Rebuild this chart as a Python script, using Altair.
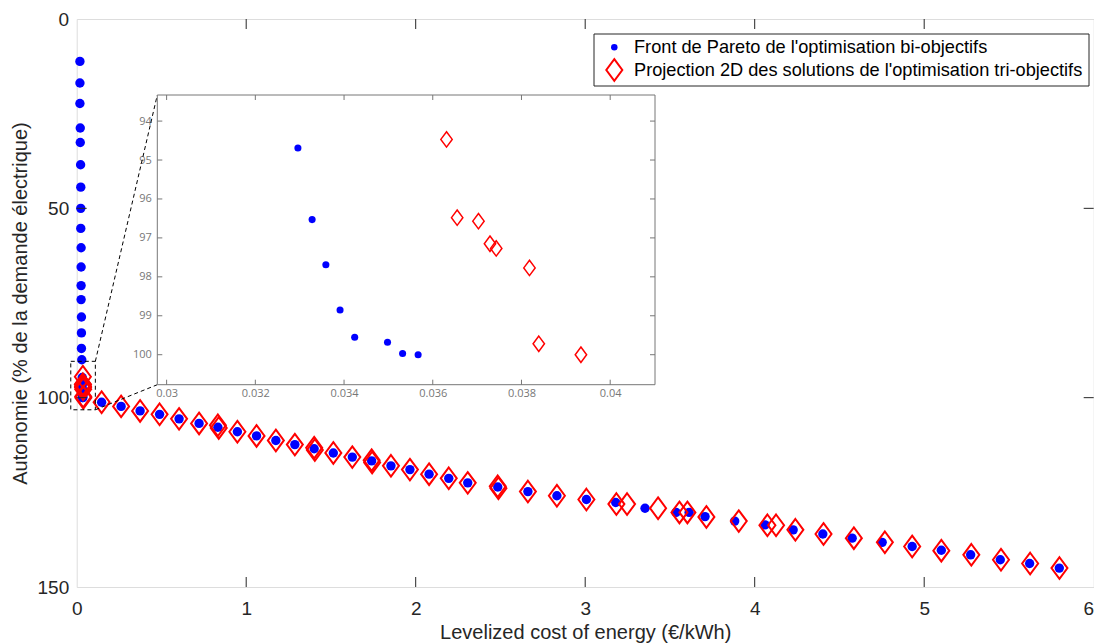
import altair as alt
import pandas as pd

# ---------------- data ----------------
# Bi-objective Pareto front: vertical column near LCOE ~ 0.02-0.03
col_x = [0.019, 0.019, 0.019, 0.021, 0.021, 0.023, 0.024, 0.024, 0.024, 0.026,
         0.026, 0.026, 0.026, 0.028, 0.028, 0.028, 0.030]
col_y = [11.2, 16.9, 22.3, 28.8, 32.6, 38.5, 44.4, 50.0, 55.3, 60.4,
         65.5, 70.4, 74.1, 78.7, 82.9, 87.0, 90.0]
# points visible in the zoomed inset
zoom_blue_x = [0.03296, 0.03328, 0.03359, 0.03391, 0.03424, 0.03498, 0.03532, 0.03567]
zoom_blue_y = [94.69, 96.53, 97.69, 98.85, 99.55, 99.68, 99.97, 100.0]
zoom_red_x = [0.03631, 0.03655, 0.03703, 0.03729, 0.03743, 0.03818, 0.03839, 0.03934]
zoom_red_y = [94.47, 96.48, 96.57, 97.15, 97.27, 97.77, 99.72, 100.0]
# descending branch of the bi-objective front
curve_blue_x = [0.147, 0.262, 0.374, 0.489, 0.604, 0.722, 0.833, 0.948, 1.061, 1.175,
                1.287, 1.401, 1.514, 1.626, 1.740, 1.854, 1.966, 2.079, 2.195, 2.307,
                2.484, 2.662, 2.833, 3.007, 3.180, 3.353, 3.536, 3.613, 3.707, 3.882,
                4.061, 4.227, 4.402, 4.575, 4.752, 4.929, 5.101, 5.274, 5.449, 5.622, 5.797]
curve_blue_y = [101.2, 102.3, 103.5, 104.4, 105.6, 106.8, 107.8, 109.0, 110.1, 111.3,
                112.4, 113.5, 114.6, 115.7, 116.7, 118.0, 119.0, 120.2, 121.3, 122.5,
                123.6, 124.8, 125.9, 126.9, 127.7, 129.2, 130.3, 130.3, 131.4, 132.6,
                133.6, 134.9, 136.0, 137.1, 138.2, 139.3, 140.3, 141.5, 142.8, 143.8, 145.0]
# tri-objective solutions projected in 2D
curve_red_x = [0.147, 0.262, 0.374, 0.489, 0.604, 0.722, 0.833, 0.838, 0.948, 1.061,
               1.175, 1.287, 1.401, 1.405, 1.514, 1.626, 1.740, 1.743, 1.854, 1.966,
               2.079, 2.195, 2.307, 2.484, 2.488, 2.662, 2.833, 3.007, 3.184, 3.247,
               3.430, 3.556, 3.603, 3.715, 3.906, 4.075, 4.126, 4.240, 4.406, 4.585,
               4.768, 4.929, 5.101, 5.278, 5.453, 5.625, 5.798]
curve_red_y = [101.2, 102.3, 103.5, 104.4, 105.6, 106.8, 107.3, 108.0, 109.0, 110.1,
               111.3, 112.4, 113.2, 113.8, 114.6, 115.7, 116.5, 117.1, 118.0, 119.0,
               120.2, 121.3, 122.5, 123.4, 123.9, 124.8, 125.9, 126.9, 128.1, 128.1,
               129.2, 130.3, 130.3, 131.5, 132.6, 133.7, 133.7, 134.9, 136.0, 137.1,
               138.2, 139.3, 140.4, 141.5, 142.8, 143.8, 145.0]

x_ticks = [0, 1, 2, 3, 4, 5, 6]
y_ticks = [0, 50, 100, 150]
inset_x_ticks = [0.03, 0.032, 0.034, 0.036, 0.038, 0.04]
inset_y_ticks = [94, 95, 96, 97, 98, 99, 100]
inset_x_domain = [0.02979, 0.04101]
inset_y_domain = [93.33, 100.77]
zoom_box_x = [-0.035, 0.11]
zoom_box_y = [90.4, 103.2]

legend_labels = ["Front de Pareto de l'optimisation bi-objectifs",
                 "Projection 2D des solutions de l'optimisation tri-objectifs"]
x_title = "Levelized cost of energy (€/kWh)"
y_title = "Autonomie (% de la demande électrique)"

# ---------------- layout / style ----------------
W, H = 1017, 568
FONT = "Liberation Sans"
AX = "#262626"
INSET_C = "#777777"
BLUE = "#0000ff"
RED = "#ff0000"
DIAMOND = "M0,-1.35L1,0L0,1.35L-1,0Z"
# inset placement in plot pixels
IX0, IX1 = 80.6, 578.3
IY0, IY1 = 76.0, 365.7

blue_df = pd.DataFrame({"x": col_x + zoom_blue_x + curve_blue_x,
                        "y": col_y + zoom_blue_y + curve_blue_y})
red_df = pd.DataFrame({"x": zoom_red_x + curve_red_x,
                       "y": zoom_red_y + curve_red_y})

xs = alt.Scale(domain=[0, 6], nice=False, zero=False)
ys = alt.Scale(domain=[0, 150], reverse=True, nice=False, zero=False)
x_axis = alt.Axis(
    values=x_ticks, format="d", title=x_title, grid=False, ticks=False, domain=False,
    labelFlush=False, labelFontSize=19, labelColor=AX, labelPadding=12,
    labelAlign={"condition": {"test": f"datum.value >= {x_ticks[-1]}", "value": "right"},
                "value": "center"},
    titleFontSize=20, titleColor=AX, titleFontWeight="normal", titlePadding=4,
    labelFont=FONT, titleFont=FONT, orient="bottom")
y_axis = alt.Axis(
    values=y_ticks, format="d", title=y_title, grid=False, ticks=False, domain=False,
    labelFlush=False, labelFontSize=19, labelColor=AX, labelPadding=8,
    titleFontSize=20, titleColor=AX, titleFontWeight="normal", titlePadding=6,
    labelFont=FONT, titleFont=FONT, orient="left")

X = lambda f="x": alt.X(f"{f}:Q", scale=xs, axis=x_axis)
Y = lambda f="y": alt.Y(f"{f}:Q", scale=ys, axis=y_axis)

blue_main = alt.Chart(blue_df).mark_point(
    shape="circle", filled=True, color=BLUE, size=88, opacity=1, strokeWidth=0
).encode(x=X(), y=Y())
red_main = alt.Chart(red_df).mark_point(
    shape=DIAMOND, filled=False, color=RED, size=256, opacity=1, strokeWidth=2
).encode(x=X(), y=Y())

# main inward ticks
xt_df = pd.DataFrame({"x": x_ticks[1:-1]})
yt_df = pd.DataFrame({"y": y_ticks[1:-1]})
tick_b = alt.Chart(xt_df).mark_rule(color=AX, strokeWidth=1).encode(
    x=X(), y=alt.value(H), y2=alt.value(H - 10))
tick_t = alt.Chart(xt_df).mark_rule(color=AX, strokeWidth=1).encode(
    x=X(), y=alt.value(0), y2=alt.value(10))
tick_l = alt.Chart(yt_df).mark_rule(color=AX, strokeWidth=1).encode(
    y=Y(), x=alt.value(0), x2=alt.value(10))
tick_r = alt.Chart(yt_df).mark_rule(color=AX, strokeWidth=1).encode(
    y=Y(), x=alt.value(W), x2=alt.value(W - 10))

# dashed zoom box and connectors
box_df = pd.DataFrame({"x": [zoom_box_x[0]], "x2": [zoom_box_x[1]],
                       "y": [zoom_box_y[0]], "y2": [zoom_box_y[1]]})
zoom_box = alt.Chart(box_df).mark_rect(
    fillOpacity=0, stroke="black", strokeWidth=1, strokeDash=[4, 3]
).encode(x=X(), x2="x2:Q", y=Y(), y2="y2:Q")
corner_x = IX0 / W * 6
conn_df = pd.DataFrame({
    "x": [zoom_box_x[1], zoom_box_x[1]], "x2": [corner_x, corner_x],
    "y": [zoom_box_y[0], zoom_box_y[1]], "y2": [IY0 / H * 150, IY1 / H * 150]})
connectors = alt.Chart(conn_df).mark_rule(
    color="black", strokeWidth=1, strokeDash=[4, 3]
).encode(x=X(), x2="x2:Q", y=Y(), y2="y2:Q")

# legend
one = pd.DataFrame({"a": [0]})
LX0, LX1, LY0, LY1 = 517.3, 1012.3, 15, 67
leg_box = alt.Chart(one).mark_rect(fill="white", stroke=AX, strokeWidth=1).encode(
    x=alt.value(LX0), x2=alt.value(LX1), y=alt.value(LY0), y2=alt.value(LY1))
leg_dot = alt.Chart(one).mark_point(shape="circle", filled=True, color=BLUE, size=42,
                                     opacity=1, strokeWidth=0).encode(
    x=alt.value(LX0 + 20.3), y=alt.value(LY0 + 13.3))
leg_dia = alt.Chart(one).mark_point(shape=DIAMOND, filled=False, color=RED, size=256,
                                     opacity=1, strokeWidth=2).encode(
    x=alt.value(LX0 + 20.3), y=alt.value(LY0 + 36))
leg_t1 = alt.Chart(one).mark_text(align="left", baseline="middle", font=FONT,
                                   fontSize=18.2, color="black").encode(
    x=alt.value(LX0 + 40), y=alt.value(LY0 + 13.8), text=alt.value(legend_labels[0]))
leg_t2 = alt.Chart(one).mark_text(align="left", baseline="middle", font=FONT,
                                   fontSize=18.2, color="black").encode(
    x=alt.value(LX0 + 40), y=alt.value(LY0 + 37), text=alt.value(legend_labels[1]))

main = alt.layer(blue_main, red_main, tick_b, tick_t, tick_l, tick_r,
                 zoom_box, connectors, leg_box, leg_dot, leg_dia, leg_t1, leg_t2)

# ---------------- inset ----------------
ixs = alt.Scale(domain=inset_x_domain, range=[IX0, IX1], nice=False, zero=False)
iys = alt.Scale(domain=inset_y_domain, range=[IY0, IY1], nice=False, zero=False)
ix_axis = alt.Axis(
    orient="bottom", offset=-(H - IY1), values=inset_x_ticks, format=".3~f",
    title=None, grid=False, ticks=False, domain=False, labelFlush=False,
    labelFont="Open Sans", labelFontSize=11, labelColor=INSET_C, labelPadding=3)
iy_axis = alt.Axis(
    orient="left", offset=-IX0, values=inset_y_ticks, format="d",
    title=None, grid=False, ticks=False, domain=False, labelFlush=False,
    labelFont="Open Sans", labelFontSize=11, labelColor=INSET_C, labelPadding=6)
IXf = lambda f="x": alt.X(f"{f}:Q", scale=ixs, axis=ix_axis)
IYf = lambda f="y": alt.Y(f"{f}:Q", scale=iys, axis=iy_axis)

frame_df = pd.DataFrame({"x": [inset_x_domain[0]], "x2": [inset_x_domain[1]],
                         "y": [inset_y_domain[0]], "y2": [inset_y_domain[1]]})
inset_frame = alt.Chart(frame_df).mark_rect(
    fill="white", stroke=INSET_C, strokeWidth=1
).encode(x=IXf(), x2="x2:Q", y=IYf(), y2="y2:Q")
ixt_df = pd.DataFrame({"x": inset_x_ticks})
iyt_df = pd.DataFrame({"y": inset_y_ticks})
itick_b = alt.Chart(ixt_df).mark_rule(color=INSET_C, strokeWidth=1).encode(
    x=IXf(), y=alt.value(IY1), y2=alt.value(IY1 - 5))
itick_t = alt.Chart(ixt_df).mark_rule(color=INSET_C, strokeWidth=1).encode(
    x=IXf(), y=alt.value(IY0), y2=alt.value(IY0 + 5))
itick_l = alt.Chart(iyt_df).mark_rule(color=INSET_C, strokeWidth=1).encode(
    y=IYf(), x=alt.value(IX0), x2=alt.value(IX0 + 5))
itick_r = alt.Chart(iyt_df).mark_rule(color=INSET_C, strokeWidth=1).encode(
    y=IYf(), x=alt.value(IX1), x2=alt.value(IX1 - 5))

iblue = alt.Chart(pd.DataFrame({"x": zoom_blue_x, "y": zoom_blue_y})).mark_point(
    shape="circle", filled=True, color=BLUE, size=50, opacity=1, strokeWidth=0
).encode(x=IXf(), y=IYf())
ired = alt.Chart(pd.DataFrame({"x": zoom_red_x, "y": zoom_red_y})).mark_point(
    shape=DIAMOND, filled=False, color=RED, size=130, opacity=1, strokeWidth=1.5
).encode(x=IXf(), y=IYf())

inset = alt.layer(inset_frame, itick_b, itick_t, itick_l, itick_r, iblue, ired)

chart = alt.layer(main, inset).resolve_scale(
    x="independent", y="independent"
).properties(
    width=W, height=H,
    autosize=alt.AutoSizeParams(type="none"),
    padding={"left": 68.7, "top": 11, "right": 0.3, "bottom": 56},
).configure_view(
    stroke=AX, strokeWidth=1
).configure(background="white")

chart.save("out.html", embed_options={"renderer": "svg", "actions": False})
